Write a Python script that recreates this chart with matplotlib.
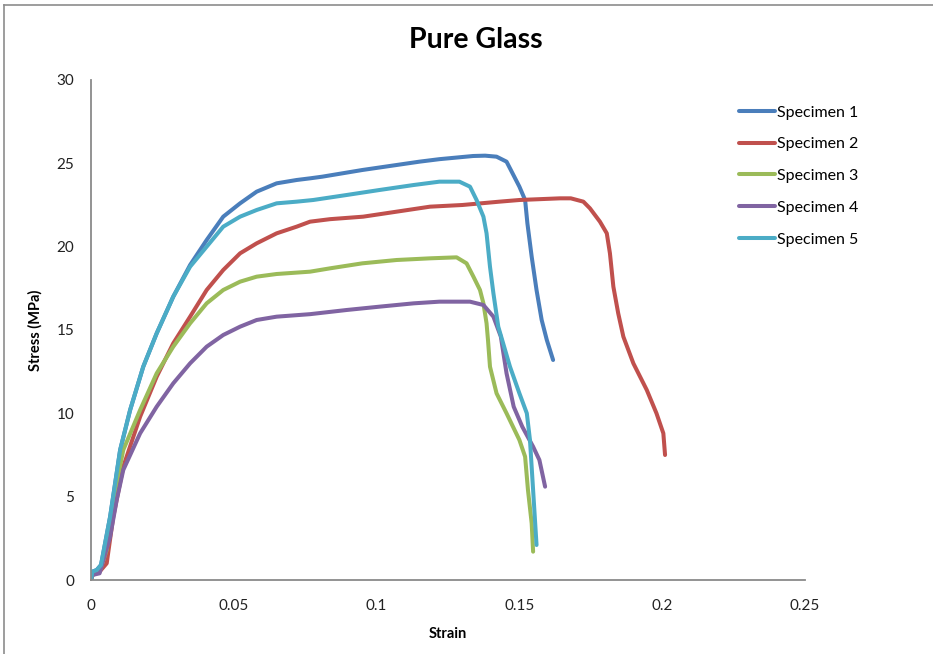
import matplotlib
matplotlib.use("Agg")
import matplotlib.pyplot as plt
from matplotlib.lines import Line2D

plt.rcParams['font.family'] = ['Lato', 'DejaVu Sans']

# Stress-strain curves for pure glass specimens
strain_1 = [0, 0.0005, 0.002, 0.0035, 0.0067, 0.0102, 0.0137, 0.0183, 0.023, 0.0288, 0.0347,
            0.0405, 0.0463, 0.0522, 0.058, 0.065, 0.072, 0.0767, 0.081, 0.088, 0.095,
            0.107, 0.115, 0.122, 0.1338, 0.138, 0.142, 0.1455, 0.147, 0.150, 0.152,
            0.1528, 0.1543, 0.156, 0.1578, 0.1596, 0.1618]
stress_1 = [0, 0.5, 0.6, 0.9, 3.8, 7.8, 10.2, 12.8, 14.8, 17.0, 18.9,
            20.4, 21.8, 22.6, 23.3, 23.8, 24.0, 24.1, 24.2, 24.4, 24.6,
            24.9, 25.1, 25.25, 25.44, 25.46, 25.4, 25.1, 24.6, 23.6, 22.8,
            21.4, 19.4, 17.4, 15.6, 14.4, 13.2]

strain_2 = [0, 0.0005, 0.003, 0.0055, 0.0078, 0.0113, 0.0172, 0.023, 0.0288, 0.0347, 0.0405,
            0.0463, 0.0522, 0.058, 0.065, 0.072, 0.0767, 0.0837, 0.0953, 0.107, 0.1187,
            0.130, 0.143, 0.150, 0.1642, 0.168, 0.1724, 0.1747, 0.1782, 0.1806, 0.1817,
            0.1829, 0.1846, 0.1864, 0.1899, 0.1946, 0.198, 0.2004, 0.201]
stress_2 = [0, 0.3, 0.5, 1.0, 3.8, 6.8, 9.8, 12.2, 14.2, 15.8, 17.4,
            18.6, 19.6, 20.2, 20.8, 21.2, 21.5, 21.65, 21.8, 22.1, 22.4,
            22.5, 22.7, 22.8, 22.9, 22.9, 22.7, 22.3, 21.5, 20.8, 19.6,
            17.6, 16.0, 14.6, 13.0, 11.4, 10.0, 8.8, 7.5]

strain_3 = [0, 0.0005, 0.003, 0.0055, 0.0078, 0.0113, 0.0172, 0.023, 0.0288, 0.0347, 0.0405,
            0.0463, 0.0522, 0.058, 0.065, 0.0767, 0.0837, 0.095, 0.107, 0.1187, 0.128,
            0.1315, 0.1339, 0.1362, 0.1374, 0.1385, 0.139, 0.1397, 0.142, 0.1455, 0.150,
            0.152, 0.153, 0.1543, 0.1548]
stress_3 = [0, 0.3, 0.5, 1.8, 4.8, 7.8, 10.2, 12.4, 14.0, 15.4, 16.6,
            17.4, 17.9, 18.2, 18.36, 18.5, 18.7, 19.0, 19.2, 19.3, 19.36,
            19.0, 18.2, 17.4, 16.6, 15.4, 14.4, 12.8, 11.2, 10.0, 8.4,
            7.4, 5.4, 3.4, 1.7]

strain_4 = [0, 0.0005, 0.003, 0.0067, 0.009, 0.0113, 0.0172, 0.023, 0.0288, 0.0347, 0.0405,
            0.0463, 0.0522, 0.058, 0.065, 0.0767, 0.0895, 0.101, 0.113, 0.122, 0.1327,
            0.1374, 0.1409, 0.1435, 0.1455, 0.148, 0.151, 0.1548, 0.157, 0.158, 0.159]
stress_4 = [0, 0.3, 0.4, 2.6, 4.8, 6.6, 8.8, 10.4, 11.8, 13.0, 14.0,
            14.7, 15.2, 15.6, 15.8, 15.95, 16.2, 16.4, 16.6, 16.7, 16.7,
            16.5, 15.8, 14.6, 12.4, 10.4, 9.2, 8.0, 7.2, 6.4, 5.6]

strain_5 = [0, 0.0005, 0.002, 0.0035, 0.0067, 0.0102, 0.0137, 0.0183, 0.023, 0.0288, 0.0347,
            0.0405, 0.0463, 0.0522, 0.058, 0.065, 0.072, 0.0778, 0.0895, 0.101, 0.113,
            0.122, 0.129, 0.1327, 0.135, 0.1374, 0.1385, 0.1397, 0.1409, 0.1426, 0.1467,
            0.150, 0.1526, 0.1537, 0.1548, 0.156]
stress_5 = [0, 0.5, 0.6, 0.9, 3.8, 7.8, 10.2, 12.8, 14.8, 17.0, 18.8,
            20.0, 21.2, 21.8, 22.2, 22.6, 22.7, 22.8, 23.1, 23.4, 23.7,
            23.9, 23.9, 23.6, 22.8, 21.8, 20.8, 18.8, 17.2, 15.2, 12.8,
            11.2, 10.0, 8.4, 5.4, 2.1]

series_names = ["Specimen 1", "Specimen 2", "Specimen 3", "Specimen 4", "Specimen 5"]
series_colors = ["#4A7EBB", "#C0504D", "#9BBB59", "#8064A2", "#4BACC6"]
x_ticks = [0, 0.05, 0.1, 0.15, 0.2, 0.25]
x_tick_labels = ["0", "0.05", "0.1", "0.15", "0.2", "0.25"]
y_ticks = [0, 5, 10, 15, 20, 25, 30]

curves = [(strain_1, stress_1), (strain_2, stress_2), (strain_3, stress_3),
          (strain_4, stress_4), (strain_5, stress_5)]

fig = plt.figure(figsize=(9.33, 6.54), dpi=100)
ax = fig.add_axes([91 / 933, 1 - 580 / 654, (805 - 91) / 933, (580 - 80) / 654])

for (xs, ys), name, color in zip(curves, series_names, series_colors):
    ax.plot(xs, ys, color=color, lw=2.9, label=name, solid_capstyle='round',
            solid_joinstyle='round')

ax.set_xlim(0, 0.25)
ax.set_ylim(0, 30)
ax.set_xticks(x_ticks)
ax.set_xticklabels(x_tick_labels)
ax.set_yticks(y_ticks)
ax.tick_params(axis='both', length=0, labelsize=11, colors='#222222')
ax.tick_params(axis='x', pad=14)
ax.tick_params(axis='y', pad=12)
for side in ('top', 'right'):
    ax.spines[side].set_visible(False)
for side in ('left', 'bottom'):
    ax.spines[side].set_color('#8A8A8A')
    ax.spines[side].set_linewidth(1.3)

ax.set_xlabel("Strain", fontsize=10.5, fontweight='bold', labelpad=10)
ax.set_ylabel("Stress (MPa)", fontsize=10.5, fontweight='bold', labelpad=10)
fig.text(476 / 933, 1 - 40 / 654, "Pure Glass", ha='center', va='center',
         fontsize=20.5, fontweight='bold')

leg = ax.legend(loc='upper left', bbox_to_anchor=(733 / 933, 1 - 99 / 654),
                bbox_transform=fig.transFigure, frameon=False, fontsize=11.5,
                handlelength=2.2, handletextpad=0.15, labelspacing=1.1,
                borderaxespad=0)

# Outer chart frame
fig.add_artist(Line2D([4 / 933, 4 / 933], [0, 1 - 5 / 654], transform=fig.transFigure,
                      color='#8C8C8C', lw=1.2))
fig.add_artist(Line2D([4 / 933, 1], [1 - 5 / 654, 1 - 5 / 654], transform=fig.transFigure,
                      color='#8C8C8C', lw=1.2))

fig.savefig("out.png", dpi=100)
